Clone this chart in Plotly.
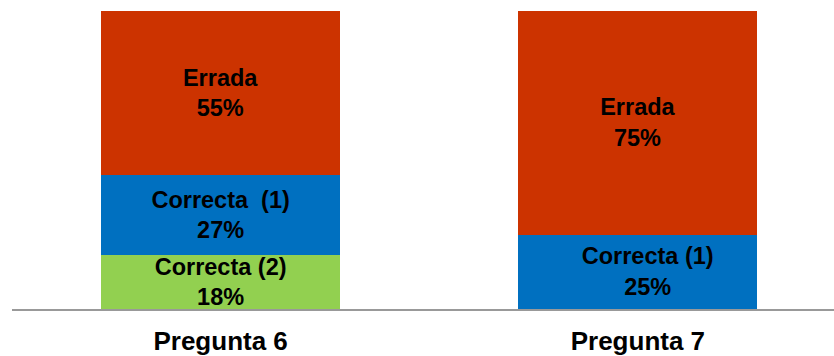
import plotly.graph_objects as go

categories = ["Pregunta 6", "Pregunta 7"]
correcta2 = [18, 0]
correcta1 = [27, 25]
errada = [55, 75]

correcta2_text = ["Correcta (2)<br>18%", ""]
correcta1_text = ["Correcta\u00a0 (1)<br>27%",
                  "\u00a0\u00a0\u00a0Correcta (1)<br>\u00a0\u00a0\u00a025%"]
errada_text = ["Errada<br>55%", "Errada<br>75%"]

font_fam = "Liberation Sans, Arial, sans-serif"
txtfont = dict(family=font_fam, size=23.5, color="black", weight="bold")

fig = go.Figure()
for vals, txt, col, name in [
    (correcta2, correcta2_text, "#92D050", "Correcta (2)"),
    (correcta1, correcta1_text, "#0070C0", "Correcta (1)"),
    (errada, errada_text, "#CC3300", "Errada"),
]:
    fig.add_trace(go.Bar(
        x=categories, y=vals, name=name, text=txt,
        texttemplate="%{text}", textposition="inside",
        insidetextanchor="middle", textangle=0,
        textfont=txtfont, marker=dict(color=col, line=dict(width=0)),
        width=0.5725, cliponaxis=False,
    ))

fig.update_layout(
    barmode="stack",
    width=834, height=356,
    margin=dict(l=12, r=0, t=11, b=47),
    plot_bgcolor="white", paper_bgcolor="white",
    showlegend=False,
    uniformtext=dict(minsize=23.5, mode="show"),
    xaxis=dict(
        range=[-0.5, 1.47], showline=True, linecolor="#999999", linewidth=2,
        ticks="", showgrid=False, zeroline=False, ticklabelstandoff=8,
        tickfont=dict(family=font_fam, size=26, color="black", weight="bold"),
    ),
    yaxis=dict(range=[0, 100], visible=False, showgrid=False, zeroline=False),
)

fig.write_html("out.html")
